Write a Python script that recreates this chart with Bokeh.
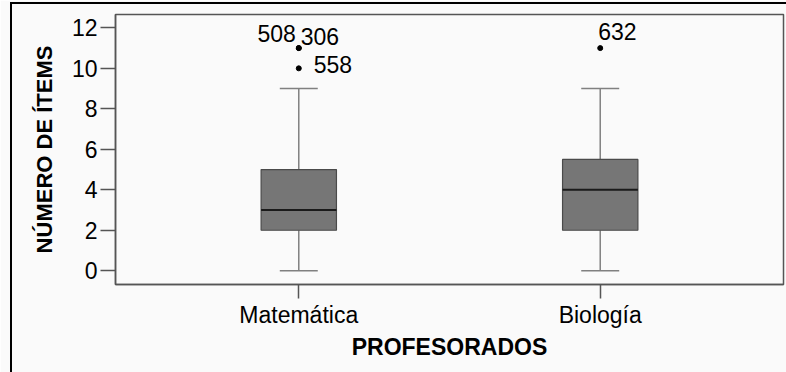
from bokeh.plotting import figure
from bokeh.models import Range1d, FixedTicker, ColumnDataSource, InlineStyleSheet
from bokeh.core.properties import value
from bokeh.transform import dodge
from bokeh.embed import file_html
from bokeh.resources import INLINE

# ---- data ----
categories = ["Matemática", "Biología"]
q1 = [2, 2]
median = [3, 4]
q3 = [5, 5.5]
lower = [0, 0]
upper = [9, 9]
outlier_cat = ["Matemática", "Matemática", "Matemática", "Biología"]
outlier_val = [11, 11, 10, 11]
outlier_id = ["508", "306", "558", "632"]
y_ticks = [0, 2, 4, 6, 8, 10, 12]

# ---- styles ----
label_align = ["right", "left", "left", "left"]
label_dx = [-3, 2, 15, -2]
label_dy = [-15, -12, -4, -17]
FONT = "Liberation Sans"
BOX_W = 0.25
CAP_W = 0.126

xpos = {c: i for i, c in enumerate(categories)}
xs = [xpos[c] for c in categories]

p = figure(width=786, height=372, output_backend="svg", toolbar_location=None,
           x_range=Range1d(-0.608, 1.608), y_range=Range1d(-0.68, 12.66),
           min_border_left=115, min_border_right=3, min_border_top=14, min_border_bottom=88)
p.background_fill_color = "#fafafa"
p.border_fill_color = "#fafafa"
p.outline_line_color = "#555555"
p.outline_line_width = 1.5
p.grid.visible = False

# outer frame of the exported figure (left and top edges)
p.stylesheets = [InlineStyleSheet(css="""
:host { position: relative; }
:host::after { content: ''; position: absolute; left: 10px; top: 2px; right: 0; bottom: 0;
  border-left: 2px solid #000; border-top: 2px solid #000; pointer-events: none; }
""")]

src = ColumnDataSource(dict(x=xs, q1=q1, med=median, q3=q3, lo=lower, hi=upper))
# whiskers
p.segment(x0="x", y0="q3", x1="x", y1="hi", source=src, line_color="#808080", line_width=1.5)
p.segment(x0="x", y0="lo", x1="x", y1="q1", source=src, line_color="#808080", line_width=1.5)
# caps
p.segment(x0=dodge("x", -CAP_W / 2), y0="hi", x1=dodge("x", CAP_W / 2), y1="hi", source=src,
          line_color="#808080", line_width=1.5)
p.segment(x0=dodge("x", -CAP_W / 2), y0="lo", x1=dodge("x", CAP_W / 2), y1="lo", source=src,
          line_color="#808080", line_width=1.5)
# boxes
p.vbar(x="x", width=BOX_W, bottom="q1", top="q3", source=src, fill_color="#767676",
       line_color="#4a4a4a", line_width=1.2)
# medians
p.segment(x0=dodge("x", -BOX_W / 2), y0="med", x1=dodge("x", BOX_W / 2), y1="med", source=src,
          line_color="#1a1a1a", line_width=2)

# outliers
osrc = ColumnDataSource(dict(x=[xpos[c] for c in outlier_cat], y=outlier_val, t=outlier_id,
                             al=label_align, dx=label_dx, dy=label_dy))
p.scatter(x="x", y="y", source=osrc, size=5, color="#000000")
p.text(x="x", y="y", text="t", source=osrc, text_align="al", x_offset="dx", y_offset="dy",
       text_baseline="alphabetic", text_font=value(FONT), text_font_size="23px", text_color="#000000")

# axes
p.xaxis.ticker = FixedTicker(ticks=xs)
p.xaxis.major_label_overrides = {i: c for i, c in enumerate(categories)}
p.yaxis.ticker = FixedTicker(ticks=y_ticks)
p.xaxis.axis_label = "PROFESORADOS"
p.yaxis.axis_label = "NÚMERO DE ÍTEMS"
for ax in (p.xaxis, p.yaxis):
    ax.axis_line_color = "#555555"
    ax.axis_line_width = 1.5
    ax.major_tick_line_color = "#555555"
    ax.major_tick_line_width = 1.5
    ax.major_tick_in = 0
    ax.minor_tick_line_color = None
    ax.major_label_text_font = FONT
    ax.major_label_text_font_size = "23px"
    ax.major_label_text_color = "#000000"
    ax.axis_label_text_font = FONT
    ax.axis_label_text_font_style = "bold"
    ax.axis_label_text_color = "#000000"
p.xaxis.axis_label_text_font_size = "23px"
p.yaxis.axis_label_text_font_size = "22px"
p.yaxis.major_tick_out = 15
p.yaxis.major_label_standoff = 3
p.yaxis.axis_label_standoff = 12
p.xaxis.major_tick_out = 14
p.xaxis.major_label_standoff = 3
p.xaxis.axis_label_standoff = 3

open("out.html", "w").write(file_html(p, INLINE))
